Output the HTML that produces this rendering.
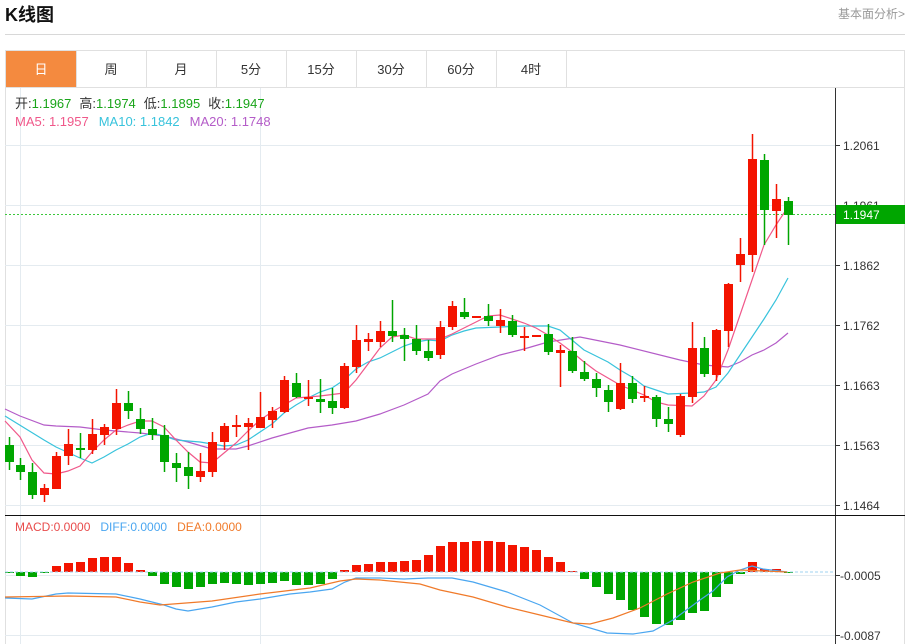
<!DOCTYPE html>
<html><head><meta charset="utf-8"><style>
body{margin:0;width:917px;height:644px;background:#fff;overflow:hidden;font-family:"Liberation Sans","Noto Sans CJK SC",sans-serif;}
svg{position:absolute;left:0;top:0}
</style></head><body>
<svg width="917" height="644" xmlns="http://www.w3.org/2000/svg" font-family="Liberation Sans, Noto Sans CJK SC, sans-serif">
<text x="5" y="21" font-size="18" font-weight="bold" fill="#111">K线图</text>
<text x="905" y="18" font-size="12" fill="#999" text-anchor="end">基本面分析&gt;</text>
<line x1="5" y1="34.5" x2="905" y2="34.5" stroke="#d8d8d8"/>
<rect x="5.5" y="50.5" width="899" height="600" fill="none" stroke="#e0e0e0"/>
<line x1="5" y1="87.5" x2="905" y2="87.5" stroke="#e0e0e0"/>
<rect x="6" y="51" width="70" height="36" fill="#f48a3f"/>
<g stroke="#e0e0e0"><line x1="146.5" y1="51" x2="146.5" y2="87"/><line x1="216.5" y1="51" x2="216.5" y2="87"/><line x1="286.5" y1="51" x2="286.5" y2="87"/><line x1="356.5" y1="51" x2="356.5" y2="87"/><line x1="426.5" y1="51" x2="426.5" y2="87"/><line x1="496.5" y1="51" x2="496.5" y2="87"/><line x1="566.5" y1="51" x2="566.5" y2="87"/><line x1="76.5" y1="51" x2="76.5" y2="87"/></g>
<g font-size="13" text-anchor="middle" fill="#333"><text x="41" y="74" fill="#fff">日</text><text x="111" y="74">周</text><text x="181" y="74">月</text><text x="251" y="74">5分</text><text x="321" y="74">15分</text><text x="391" y="74">30分</text><text x="461" y="74">60分</text><text x="531" y="74">4时</text></g>
<g stroke="#e4ebf0"><line x1="5" y1="145.5" x2="835" y2="145.5"/><line x1="5" y1="205.5" x2="835" y2="205.5"/><line x1="5" y1="265.5" x2="835" y2="265.5"/><line x1="5" y1="325.5" x2="835" y2="325.5"/><line x1="5" y1="385.5" x2="835" y2="385.5"/><line x1="5" y1="445.5" x2="835" y2="445.5"/><line x1="5" y1="505.5" x2="835" y2="505.5"/><line x1="5" y1="575.5" x2="835" y2="575.5"/><line x1="5" y1="635.5" x2="835" y2="635.5"/><line x1="20.5" y1="88" x2="20.5" y2="644"/><line x1="260.5" y1="88" x2="260.5" y2="644"/></g>
<line x1="835.5" y1="88" x2="835.5" y2="644" stroke="#333"/>
<line x1="5" y1="515.5" x2="905" y2="515.5" stroke="#111"/>
<g stroke="#333"><line x1="835" y1="145.5" x2="840" y2="145.5"/><line x1="835" y1="205.5" x2="840" y2="205.5"/><line x1="835" y1="265.5" x2="840" y2="265.5"/><line x1="835" y1="325.5" x2="840" y2="325.5"/><line x1="835" y1="385.5" x2="840" y2="385.5"/><line x1="835" y1="445.5" x2="840" y2="445.5"/><line x1="835" y1="505.5" x2="840" y2="505.5"/><line x1="835" y1="575.5" x2="840" y2="575.5"/><line x1="835" y1="635.5" x2="840" y2="635.5"/></g>
<g font-size="12" fill="#333"><text x="843" y="150">1.2061</text><text x="843" y="210">1.1961</text><text x="843" y="270">1.1862</text><text x="843" y="330">1.1762</text><text x="843" y="390">1.1663</text><text x="843" y="450">1.1563</text><text x="843" y="510">1.1464</text><text x="840" y="580">-0.0005</text><text x="840" y="640">-0.0087</text></g>
<g font-size="13"><text x="15" y="108"><tspan fill="#333">开:</tspan><tspan fill="#1aa51a">1.1967</tspan><tspan fill="#333" dx="8">高:</tspan><tspan fill="#1aa51a">1.1974</tspan><tspan fill="#333" dx="8">低:</tspan><tspan fill="#1aa51a">1.1895</tspan><tspan fill="#333" dx="8">收:</tspan><tspan fill="#1aa51a">1.1947</tspan></text>
<text x="15" y="126"><tspan fill="#f0588a">MA5: 1.1957</tspan><tspan fill="#38c3dc" dx="10">MA10: 1.1842</tspan><tspan fill="#b45cc8" dx="10">MA20: 1.1748</tspan></text>
<text x="15" y="531" font-size="12"><tspan fill="#e84c4c">MACD:0.0000</tspan><tspan fill="#4aa6f0" dx="10">DIFF:0.0000</tspan><tspan fill="#f07a2a" dx="10">DEA:0.0000</tspan></text></g>
<line x1="5" y1="214.5" x2="835" y2="214.5" stroke="#3cc83c" stroke-dasharray="2,2"/>
<rect x="836" y="205" width="69" height="19" fill="#00a600"/>
<text x="843" y="219" font-size="12" fill="#fff">1.1947</text>
<polyline fill="none" stroke="#b45cc8" stroke-width="1.2" points="5,409 20,416 44,425 56,426 80,427 104,430 140,433 164,436 188,442 212,449 236,449 248,446 272,438 308,428 332,425 356,421 380,414 404,405 428,394 440,381 452,374 476,364 500,355 524,349 548,342 580,337 620,345 680,360 704,365 728,367 740,362 752,355 764,350 776,343 788,333"/>
<polyline fill="none" stroke="#38c3dc" stroke-width="1.2" points="5,416 44,440 56,447 80,458 92,463 104,457 116,450 128,444 140,437 152,433 164,436 176,440 200,442 224,446 236,445 248,440 260,432 272,424 284,413 296,405 308,398 320,392 332,388 344,380 356,369 368,362 380,358 392,352 404,346 416,342 428,340 440,341 452,335 464,331 476,328 500,327 524,326 548,326 560,330 572,340 584,350 596,356 608,362 620,370 632,377 644,386 656,390 668,394 692,393 704,392 716,387 728,373 740,355 752,337 764,319 776,300 788,278"/>
<polyline fill="none" stroke="#f0588a" stroke-width="1.2" points="5,421 20,437 32,460 44,473 56,474 68,471 80,466 92,452 104,440 116,430 128,425 140,421 152,421 164,427 176,440 188,452 200,462 212,463 224,453 236,443 248,431 260,420 272,412 284,405 296,398 320,396 344,393 356,380 368,364 380,348 392,337 404,335 416,339 440,339 452,334 464,328 476,322 488,316 500,315 512,319 524,323 536,328 548,335 560,343 572,352 584,362 596,371 608,378 620,385 632,390 644,395 656,402 668,405 692,406 704,396 716,380 728,350 740,315 752,280 764,245 776,225 788,207"/>
<g id="c"></g>
<line x1="5" y1="572" x2="835" y2="572" stroke="#9fd3f0" stroke-dasharray="3,2"/>
<polyline fill="none" stroke="#4aa6f0" stroke-width="1.2" points="5,598 32,599 56,594 68,593 116,594 140,599 164,605 176,609 188,611 212,607 236,602 260,599 290,594 310,592 332,589 345,582 356,578 380,578 404,579 428,578 452,578 473,582 507,592 540,605 573,623 607,633 633,634 653,631 673,620 700,600 713,591 727,577 740,570 752,566 763,569 787,572"/>
<polyline fill="none" stroke="#f07a2a" stroke-width="1.2" points="5,597 68,596 116,597 140,602 160,605 212,601 260,594 310,588 340,581 356,579 380,580 420,584 440,590 473,597 507,607 540,615 573,623 590,624 613,618 640,608 667,594 693,582 720,573 740,570 787,572"/>
</svg>
<script>
(function(){
var C=[[9,437,470,445,462,0],[20,458,480,465,472,0],[32,463,499,472,495,0],[44,484,502,488,495,1],[56,452,489,456,489,1],[68,429,465,444,456,1],[80,433,458,448,450,0],[92,419,454,434,450,1],[104,424,445,427,435,1],[116,389,435,403,429,1],[128,391,419,403,411,0],[140,408,434,419,429,0],[152,418,440,429,435,0],[164,425,472,435,462,0],[176,453,482,463,468,0],[188,452,489,467,476,0],[200,453,482,471,477,1],[212,432,477,442,472,1],[224,423,450,426,442,1],[236,415,437,425,427,1],[248,418,450,423,427,1],[260,392,428,417,428,1],[272,407,428,411,420,1],[284,376,413,380,412,1],[296,373,398,383,397,0],[308,380,406,397,399,1],[320,379,413,399,402,0],[332,388,414,401,408,0],[344,363,409,366,408,1],[356,325,373,340,367,1],[368,333,351,339,342,1],[380,321,347,331,342,1],[392,300,342,331,336,0],[404,328,361,335,339,0],[416,325,355,339,351,0],[428,340,361,351,358,0],[440,321,359,327,355,1],[452,301,330,306,327,1],[464,298,319,312,317,0],[476,316,318,316,318,1],[488,304,326,316,321,0],[500,309,333,320,326,1],[512,315,337,321,335,0],[524,327,351,336,338,1],[536,335,337,335,337,1],[548,324,355,334,352,0],[560,345,387,350,353,1],[572,337,373,351,371,0],[584,361,381,372,379,0],[596,373,397,379,388,0],[608,385,412,390,402,0],[620,363,410,383,409,1],[632,376,403,383,399,0],[644,386,402,396,398,1],[656,395,427,397,419,0],[668,407,432,419,424,0],[680,394,437,396,435,1],[692,322,403,348,397,1],[704,337,377,348,374,0],[716,329,381,330,375,1],[728,283,347,284,331,1],[740,238,282,254,265,1],[752,134,272,159,255,1],[764,154,245,160,210,0],[776,184,238,199,211,1],[788,197,245,201,215,0]];
var M=[572,576,577,573,566,563,562,558,557,557,563,570,576,584,587,589,587,584,583,584,585,584,583,581,585,585,584,579,570,565,564,562,562,561,560,555,546,542,542,541,541,542,545,547,550,557,562,571,579,587,594,600,610,617,624,625,620,613,611,597,584,574,562,569,569,572];
var s='',R='#f31400',G='#00a600';
for(var i=0;i<C.length;i++){var c=C[i],col=c[5]?R:G;
s+='<line x1="'+(c[0]+.5)+'" y1="'+c[1]+'" x2="'+(c[0]+.5)+'" y2="'+c[2]+'" stroke="'+col+'" stroke-width="1.5"/>';
var h=Math.max(c[4]-c[3],2);s+='<rect x="'+(c[0]-4)+'" y="'+c[3]+'" width="9" height="'+h+'" fill="'+col+'"/>';
var m=M[i],ty=Math.min(m,572),hh=Math.max(Math.abs(m-572),1);
s+='<rect x="'+(c[0]-4)+'" y="'+ty+'" width="9" height="'+hh+'" fill="'+(m<572?R:G)+'"/>';}
document.getElementById('c').innerHTML=s;
})();
</script>
</body></html>
